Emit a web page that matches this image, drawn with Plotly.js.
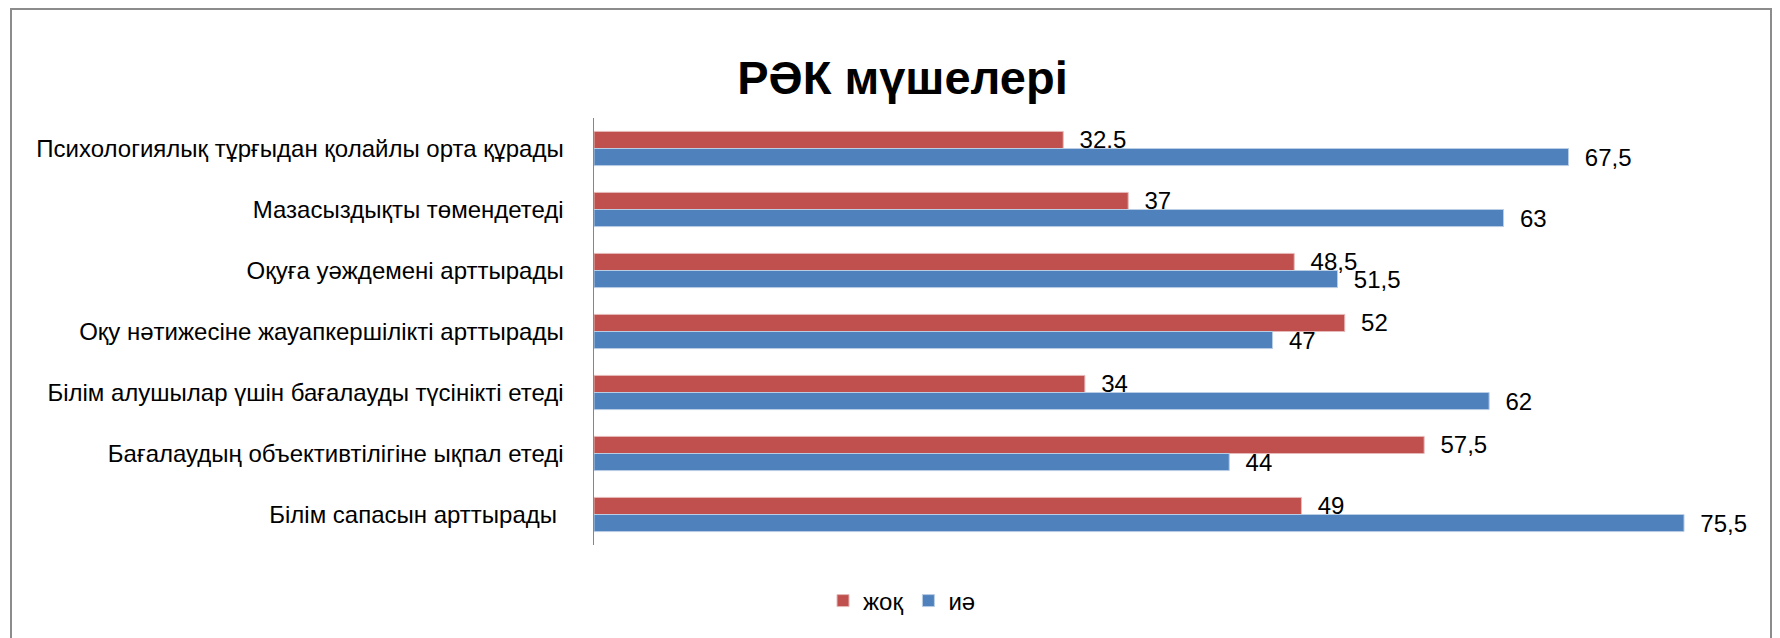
<!DOCTYPE html>
<html>
<head>
<meta charset="utf-8">
<script src="https://cdn.plot.ly/plotly-3.0.1.min.js"></script>
<style>
  html, body { margin: 0; padding: 0; background: #fff; }
  #frame { position: absolute; left: 10px; top: 8px; width: 1762px; height: 700px; border: 2px solid #8c8c8c; box-sizing: border-box; }
  #chart { position: absolute; left: 0; top: 0; width: 1780px; height: 638px; }
</style>
</head>
<body>
<div id="frame"></div>
<div id="chart"></div>
<script>
const categories = [
  "Психологиялық тұрғыдан қолайлы орта құрады",
  "Мазасыздықты төмендетеді",
  "Оқуға уәждемені арттырады",
  "Оқу нәтижесіне жауапкершілікті арттырады",
  "Білім алушылар үшін бағалауды түсінікті етеді",
  "Бағалаудың объективтілігіне ықпал етеді",
  "Білім сапасын арттырады\u00a0"
];
const zhoq = [32.5, 37, 48.5, 52, 34, 57.5, 49];
const ie = [67.5, 63, 51.5, 47, 62, 44, 75.5];
const seriesNames = ["жоқ", "иә"];
const chartTitle = "РӘК мүшелері";

const FONT = '"Liberation Sans", Arial, sans-serif';
const fmt = v => '\u00a0\u00a0' + String(v).replace('.', ',');

const traces = [
  {
    type: 'bar', orientation: 'h', name: seriesNames[0],
    y: categories, x: zhoq,
    text: zhoq.map(fmt), textposition: 'outside', cliponaxis: false, constraintext: 'none',
    textfont: { family: FONT, size: 24, color: '#000' },
    marker: { color: '#C0504D', line: { color: '#E6B9B8', width: 1 } }
  },
  {
    type: 'bar', orientation: 'h', name: seriesNames[1],
    y: categories, x: ie,
    text: ie.map(fmt), textposition: 'outside', cliponaxis: false, constraintext: 'none',
    textfont: { family: FONT, size: 24, color: '#000' },
    marker: { color: '#4F81BD', line: { color: '#B9CDE5', width: 1 } }
  }
];

const layout = {
  width: 1780, height: 638,
  paper_bgcolor: 'rgba(0,0,0,0)', plot_bgcolor: 'rgba(0,0,0,0)',
  margin: { l: 594, r: 31, t: 118, b: 93 },
  font: { family: FONT, size: 24, color: '#000' },
  title: {
    text: '<b>' + chartTitle + '</b>',
    font: { family: FONT, size: 47, color: '#000' },
    x: 0.507, xanchor: 'center', xref: 'container',
    y: 1 - 78 / 638, yanchor: 'middle', yref: 'container'
  },
  barmode: 'group', bargap: 0.44, bargroupgap: 0,
  xaxis: {
    range: [0, 80], autorange: false, showgrid: false, zeroline: false, showline: false,
    showticklabels: false, ticks: ''
  },
  yaxis: {
    autorange: 'reversed', type: 'category',
    showline: true, linecolor: '#868686', linewidth: 1.5,
    showgrid: false, zeroline: false,
    ticks: 'outside', ticklen: 24, tickcolor: 'rgba(0,0,0,0)',
    tickfont: { family: FONT, size: 24, color: '#000' }
  },
  showlegend: true,
  legend: {
    orientation: 'h', x: (902 - 594) / 1155, xanchor: 'center',
    y: (545 - 601) / 427, yanchor: 'middle',
    font: { family: FONT, size: 24, color: '#000' },
    itemwidth: 30, traceorder: 'normal'
  }
};

Plotly.newPlot('chart', traces, layout, { displayModeBar: false, staticPlot: true });
</script>
</body>
</html>
